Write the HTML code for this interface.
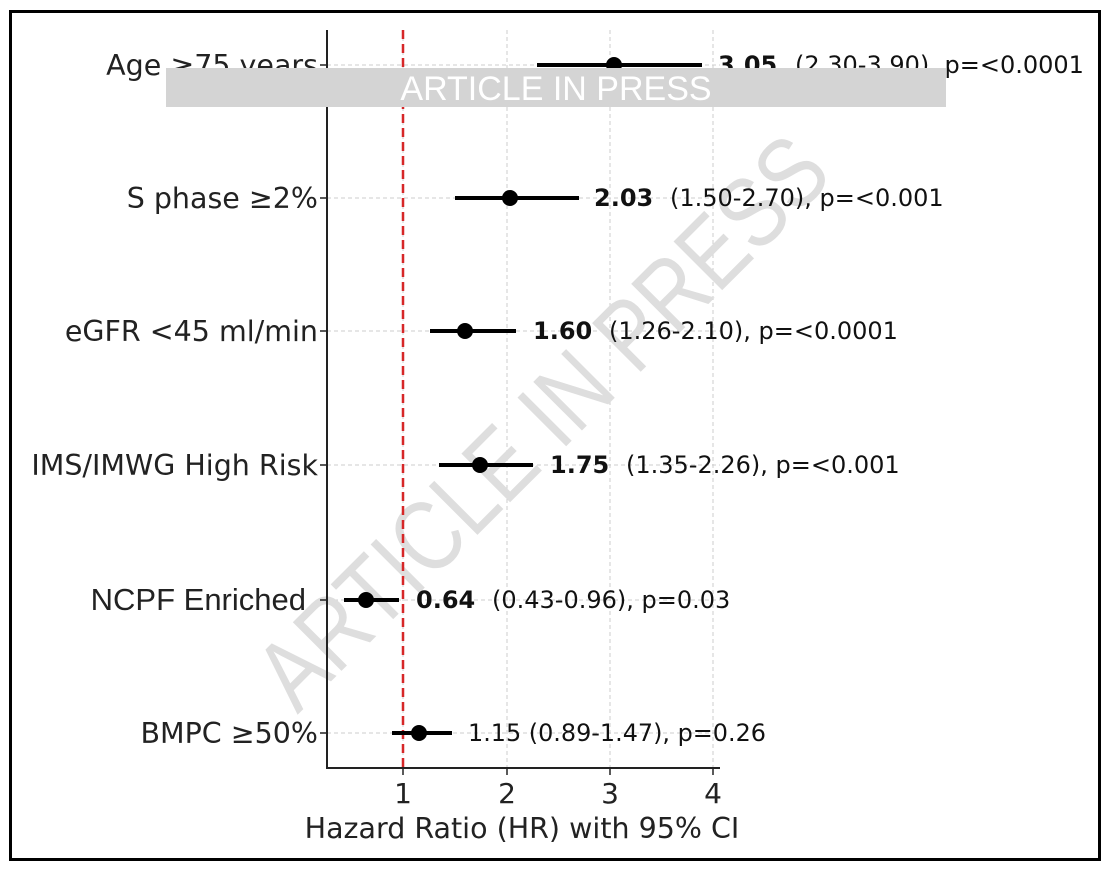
<!DOCTYPE html>
<html><head><meta charset="utf-8"><style>html,body{margin:0;padding:0;background:#fff}svg{display:block}</style></head>
<body>
<svg width="1112" height="870" viewBox="0 0 1112 870" xmlns="http://www.w3.org/2000/svg" font-family="DejaVu Sans, Liberation Sans, sans-serif">
<rect x="0" y="0" width="1112" height="870" fill="#fff"/>
<rect x="10.5" y="11.5" width="1089" height="848" fill="none" stroke="#000" stroke-width="3"/>
<g stroke="#ccc" stroke-width="1" stroke-dasharray="4,3">
<line x1="403" y1="30" x2="403" y2="768"/><line x1="507" y1="30" x2="507" y2="768"/><line x1="610" y1="30" x2="610" y2="768"/><line x1="713" y1="30" x2="713" y2="768"/>
<line x1="327" y1="65" x2="720" y2="65"/><line x1="327" y1="198" x2="720" y2="198"/><line x1="327" y1="331" x2="720" y2="331"/><line x1="327" y1="465" x2="720" y2="465"/><line x1="327" y1="600" x2="720" y2="600"/><line x1="327" y1="733" x2="720" y2="733"/>
</g>
<text x="545" y="455" font-family="Liberation Sans, sans-serif" font-size="100" fill="#dedede" text-anchor="middle" textLength="760" lengthAdjust="spacingAndGlyphs" transform="rotate(-45 545 425)">ARTICLE IN PRESS</text>
<line x1="403" y1="30" x2="403" y2="768" stroke="#d62728" stroke-width="2.5" stroke-dasharray="9,5"/>
<line x1="327" y1="30" x2="327" y2="769" stroke="#222" stroke-width="2"/>
<line x1="326" y1="768" x2="720" y2="768" stroke="#222" stroke-width="2"/>
<g stroke="#222" stroke-width="1.5">
<line x1="403" y1="768" x2="403" y2="775"/><line x1="507" y1="768" x2="507" y2="775"/><line x1="610" y1="768" x2="610" y2="775"/><line x1="713" y1="768" x2="713" y2="775"/>
<line x1="320" y1="65" x2="327" y2="65"/><line x1="320" y1="198" x2="327" y2="198"/><line x1="320" y1="331" x2="327" y2="331"/><line x1="320" y1="465" x2="327" y2="465"/><line x1="320" y1="600" x2="327" y2="600"/><line x1="320" y1="733" x2="327" y2="733"/>
</g>
<g font-size="28" fill="#222" text-anchor="middle">
<text x="403" y="803">1</text><text x="507" y="803">2</text><text x="610" y="803">3</text><text x="713" y="803">4</text>
</g>
<text x="522" y="838" font-size="28.5" fill="#222" text-anchor="middle">Hazard Ratio (HR) with 95% CI</text>
<g font-size="28.5" fill="#222" text-anchor="end">
<text x="318" y="75">Age ≥75 years</text>
<text x="318" y="208">S phase ≥2%</text>
<text x="318" y="341">eGFR &lt;45 ml/min</text>
<text x="318" y="475">IMS/IMWG High Risk</text>
<text x="306" y="610" font-family="Liberation Sans, sans-serif" font-size="31">NCPF Enriched</text>
<text x="318" y="743">BMPC ≥50%</text>
</g>
<g stroke="#000" stroke-width="4">
<line x1="537" y1="65" x2="702" y2="65"/>
<line x1="455" y1="198" x2="579" y2="198"/>
<line x1="430" y1="331" x2="516" y2="331"/>
<line x1="439" y1="465" x2="533" y2="465"/>
<line x1="344" y1="600" x2="399" y2="600"/>
<line x1="392" y1="733" x2="452" y2="733"/>
</g>
<g fill="#000">
<circle cx="614" cy="65" r="8"/><circle cx="510" cy="198" r="8"/><circle cx="465" cy="331" r="8"/><circle cx="480" cy="465" r="8"/><circle cx="366" cy="600" r="8"/><circle cx="419" cy="733" r="8"/>
</g>
<g font-size="24" fill="#111">
<text y="73"><tspan x="718" font-weight="bold">3.05</tspan><tspan x="795">(2.30-3.90), p=&lt;0.0001</tspan></text>
<text y="206"><tspan x="594" font-weight="bold">2.03</tspan><tspan x="670">(1.50-2.70), p=&lt;0.001</tspan></text>
<text y="339"><tspan x="533" font-weight="bold">1.60</tspan><tspan x="609">(1.26-2.10), p=&lt;0.0001</tspan></text>
<text y="473"><tspan x="550" font-weight="bold">1.75</tspan><tspan x="626">(1.35-2.26), p=&lt;0.001</tspan></text>
<text y="608"><tspan x="416" font-weight="bold">0.64</tspan><tspan x="492">(0.43-0.96), p=0.03</tspan></text>
<text x="468" y="741" textLength="298" lengthAdjust="spacingAndGlyphs">1.15 (0.89-1.47), p=0.26</text>
</g>
<rect x="166" y="68" width="780" height="39" fill="#d4d4d4"/>
<text x="556" y="100" font-family="Liberation Sans, sans-serif" font-size="34" fill="#fff" text-anchor="middle">ARTICLE IN PRESS</text>
</svg>
</body></html>
